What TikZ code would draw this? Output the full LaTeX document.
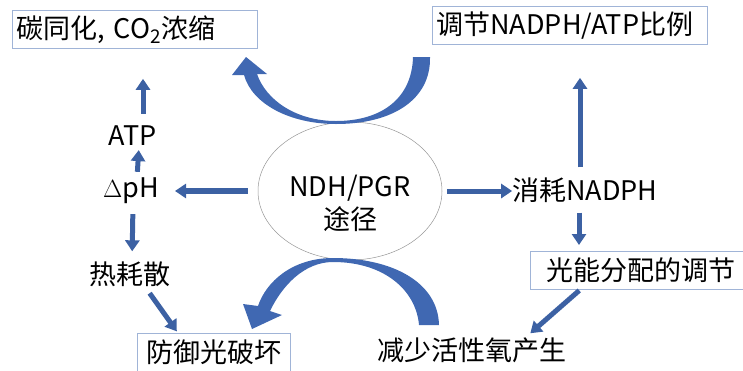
\documentclass[tikz,border=0pt]{standalone}
\usepackage{fontspec}
\setmainfont{Noto Sans CJK SC}
\usetikzlibrary{arrows.meta,shapes.geometric}
\definecolor{arrblue}{RGB}{60,97,163}
\definecolor{curvblue}{RGB}{64,104,178}
\definecolor{boxline}{RGB}{160,180,215}
\definecolor{ellgray}{RGB}{150,150,150}
\def\mainfont{\fontsize{27pt}{33pt}\selectfont}
\tikzset{
  box/.style={draw=boxline, line width=0.8pt, inner xsep=4pt, inner ysep=0pt, minimum height=38pt, align=left, font=\mainfont},
  lbl/.style={inner sep=0pt, font=\mainfont},
  blarr/.style={draw=arrblue, line width=5pt, -{Triangle[width=14pt,length=11pt]}}
}

\begin{document}
\begin{tikzpicture}[x=1pt,y=-1pt]
			%%%%% START %%%%%
			\useasboundingbox (0,0) rectangle (743,370);
			
			\node[box, anchor=north west, text width=237pt] (carbon) at (12,10) {碳同化, CO\textsubscript{2}浓缩};
			\node[box, anchor=north west, text width=267pt] (ratio) at (432,6) {调节NADPH/ATP比例};
			\node[box, anchor=north west, minimum width=222pt] (alloc) at (530,251) {光能分配的调节};
			\node[box, anchor=north west, minimum width=153pt] (defend) at (137,333) {防御光破坏};
			
			\node[lbl] (atp) at (133,136) {ATP};
			\node[lbl] (dph) at (131,191) {$\Delta$pH};
			\node[lbl] (heat) at (130,274) {热耗散};
			\node[lbl] (nadph) at (585,190) {消耗NADPH};
			\node[lbl] (ros) at (472,350) {减少活性氧产生};
			
			\node[draw=ellgray, line width=0.5pt, ellipse, minimum width=184pt, minimum height=138pt] (ndh) at (350,191) {};
			\node[lbl, align=center] (ndhtxt) at (350,203) {NDH/PGR\\途径};
			
			% curved arrows
			\fill[curvblue] (430,57) .. controls (431,100) and (392,124) .. (336,124)
			  .. controls (290,124) and (252,104) .. (244,75)
			  -- (232,75) -- (246,57) -- (267,74) -- (257,74)
			  .. controls (266,100) and (296,121) .. (336,121)
			  .. controls (382,121) and (412,98) .. (413,57) -- cycle;
			\fill[curvblue] (439,325) .. controls (438,282) and (392,258) .. (333,258)
			  .. controls (292,258) and (266,282) .. (258,306)
			  -- (243,304) -- (252,329) -- (282,315) -- (270,311)
			  .. controls (282,286) and (304,262) .. (333,262)
			  .. controls (384,262) and (416,290) .. (419,325) -- cycle;
			
			% straight arrows
			\draw[blarr, shorten <=12pt, shorten >=30pt] ([xshift=10pt]atp.north) -- ([xshift=10pt]atp.north |- carbon.south);
			\draw[blarr, shorten <=6pt, shorten >=4pt] ([xshift=6pt]dph.north) -- ([xshift=6pt]atp.south);
			\draw[blarr, line width=6pt, shorten <=10pt, shorten >=16pt] (ndh.west) -- (ndh.west -| dph.east);
			\draw[blarr, shorten <=10pt, shorten >=10pt] ([xshift=2pt]dph.south) -- ([xshift=2pt]heat.north);
			\draw[blarr, shorten <=8pt, shorten >=2pt] ([xshift=15pt]heat.south) -- ([xshift=41pt]defend.north west);
			\draw[blarr, shorten <=5pt, shorten >=0pt] (ndh.east) -- (ndh.east -| nadph.west);
			\draw[blarr, shorten <=10pt, shorten >=33pt] ([xshift=-5pt]nadph.north) -- ([xshift=-5pt]nadph.north |- ratio.south);
			\draw[blarr, shorten <=10pt, shorten >=6pt] ([xshift=-6pt]nadph.south) -- ([xshift=-6pt]nadph.south |- alloc.north);
			\draw[blarr, shorten <=1pt, shorten >=0pt] ([xshift=50pt]alloc.south west) -- ([xshift=153pt,yshift=4pt]ros.north west);
			
			%%%%% END %%%%%
\end{tikzpicture}
\end{document}
